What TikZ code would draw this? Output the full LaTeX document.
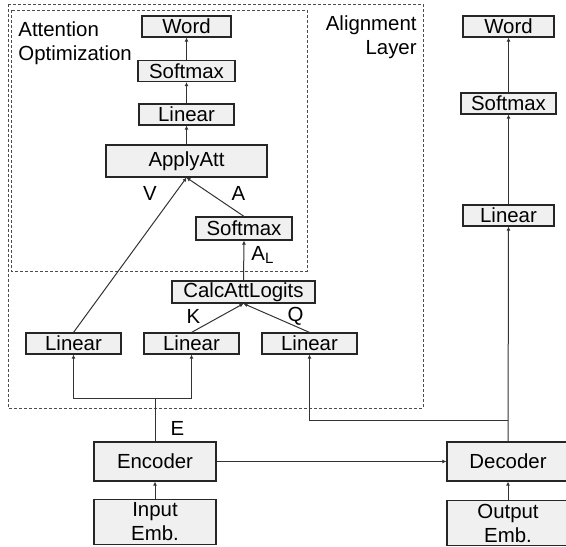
\documentclass[tikz,border=0pt]{standalone}
\usepackage{fontspec}
\setmainfont{Liberation Sans}
\usepackage{tikz}
\usetikzlibrary{positioning,arrows.meta,calc}

\begin{document}
\begin{tikzpicture}[x=0.5pt, y=-0.5pt,
    font=\fontsize{10.2}{12}\selectfont,
    layer/.style={draw=black!85, fill=black!6, line width=0.6pt, inner sep=0pt,
        minimum height=10.5pt, text=black},
    link/.style={-{Latex[length=2pt,width=2pt]}, draw=black!80, line width=0.5pt},
    region/.style={draw=black!70, line width=0.5pt, dash pattern=on 1.5pt off 1pt},
    tag/.style={inner sep=0pt, text=black}]
    \useasboundingbox (0,0) rectangle (566,546);

    % Dashed regions
    \draw[region] (8,4) rectangle (423,408);
    \draw[region] (11,10) rectangle (307,271);
    \node[tag, anchor=north west, align=left] (attopt) at (18,21.5) {Attention\\Optimization};
    \node[tag, anchor=north east, align=right] (alignl) at (417,15) {Alignment\\Layer};

    % Attention decoder stack
    \node[layer, minimum width=44.5pt] (wordL) at (186.5,26.5) {Word};
    \node[layer, minimum width=48.5pt] (softL) at (186.5,71) {Softmax};
    \node[layer, minimum width=47.5pt] (linL) at (186.5,114.5) {Linear};
    \node[layer, minimum width=80.5pt, minimum height=16pt] (apply) at (186.5,161) {ApplyAtt};
    \node[layer, minimum width=48pt, minimum height=11.5pt] (softA) at (244,228.5) {Softmax};
    \node[layer, minimum width=71.5pt, minimum height=11pt] (calc) at (243.5,292) {CalcAttLogits};
    \node[layer, minimum width=47.5pt] (lin1) at (73.5,343.5) {Linear};
    \node[layer, minimum width=47.5pt] (lin2) at (191.5,343.5) {Linear};
    \node[layer, minimum width=47.5pt] (lin3) at (309.5,343.5) {Linear};

    % Encoder / decoder
    \node[layer, minimum width=61pt, minimum height=19.5pt] (enc) at (155,461.5) {Encoder};
    \node[layer, minimum width=61pt, minimum height=22.5pt, align=center] (inp) at (155,522) {Input\\Emb.};
    \node[layer, minimum width=61pt, minimum height=19.5pt] (dec) at (508,461.5) {Decoder};
    \node[layer, minimum width=61pt, minimum height=22.5pt, align=center] (outp) at (508,523) {Output\\Emb.};

    % Plain decoder stack
    \node[layer, minimum width=45.5pt] (wordR) at (508.5,26.5) {Word};
    \node[layer, minimum width=47.5pt] (softR) at (508.5,103.5) {Softmax};
    \node[layer, minimum width=45.5pt] (linR) at (508.5,215.5) {Linear};

    % Labels
    \node[tag] (vlab) at (150,193) {V};
    \node[tag] (alab) at (238.5,193) {A};
    \node[tag, anchor=west] (allab) at (251,255) {A\raisebox{-1.6pt}{\fontsize{7.5}{8}\selectfont L}};
    \node[tag] (klab) at (193.5,316) {K};
    \node[tag] (qlab) at (295.5,316) {Q};
    \node[tag] (elab) at (177.5,428) {E};

    % Connections
    \coordinate (ejoin) at (155,398);
    \coordinate (qjoin) at (508,420);
    \draw[link] (softL) -- (wordL);
    \draw[link] (linL) -- (softL);
    \draw[link] (apply) -- (linL);
    \draw[link] (lin1.north) -- (apply.south);
    \draw[link] (softA.north) -- (apply.south);
    \draw[link] (calc.north) -- (softA.south);
    \draw[link] (lin2.north) -- (calc.south);
    \draw[link] (lin3.north) -- (calc.south);
    \draw[link] (enc.north) -- (ejoin) -| (lin1.south);
    \draw[link] (ejoin) -| (lin2.south);
    \draw[link] (qjoin) -| (lin3.south);
    \draw[link] (inp) -- (enc);
    \draw[link] (outp) -- (dec);
    \draw[link] (enc) -- (dec);
    \draw[link] (dec) -- (linR);
    \draw[link] (linR) -- (softR);
    \draw[link] (softR) -- (wordR);
\end{tikzpicture}
\end{document}
